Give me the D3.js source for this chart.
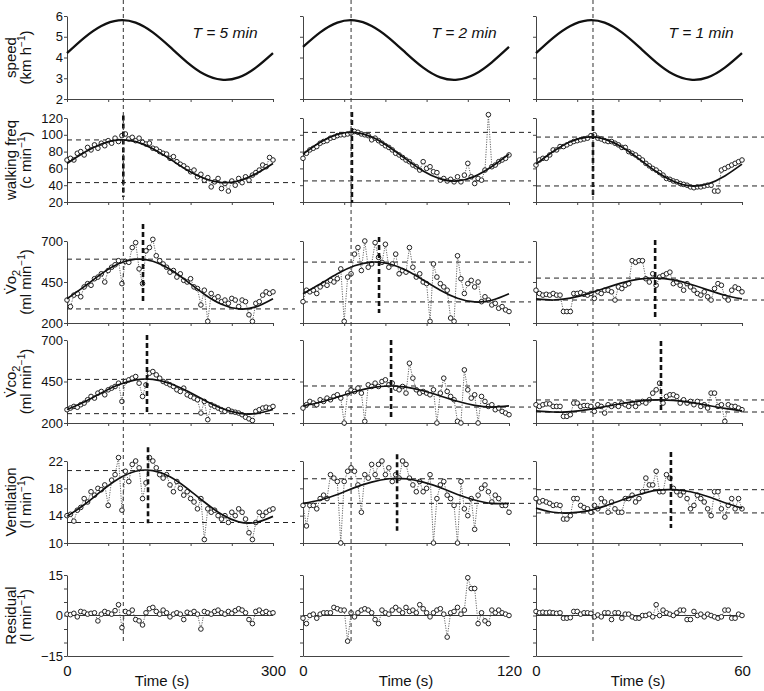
<!DOCTYPE html>
<html><head><meta charset="utf-8">
<script src="https://cdn.jsdelivr.net/npm/d3@7"></script>
<style>
body{margin:0;background:#fff}
svg{display:block}
text{font-family:"Liberation Sans",Arial,Helvetica,sans-serif;fill:#111}
</style>
</head><body>
<svg id="chart" width="764" height="691"></svg>
<script>
// ---------------- DATA ----------------
const periodLabels = ["T = 5 min", "T = 2 min", "T = 1 min"];
const periods = [300, 120, 60];
const xEndLabels = [["0", "300"], ["0", "120"], ["0", "60"]];
const xTitle = "Time (s)";

// tick values per row
const speedTicks = [2, 3, 4, 5, 6];
const walkTicks = [20, 40, 60, 80, 100, 120];
const vo2Ticks = [200, 450, 700];
const vco2Ticks = [200, 450, 700];
const ventTicks = [10, 14, 18, 22];
const residTicks = [-15, -10, -5, 0, 5, 10, 15];
const residLabelled = [-15, 0, 15];

// speed profile (13 samples over one period)
const speed5 = [4.21,4.95,5.52,5.79,5.68,5.21,4.51,3.77,3.19,2.93,3.04,3.51,4.21];
const speed2 = [4.51,5.21,5.68,5.79,5.52,4.95,4.21,3.51,3.04,2.93,3.19,3.77,4.51];
const speed1 = [4.21,4.95,5.52,5.79,5.68,5.21,4.51,3.77,3.19,2.93,3.04,3.51,4.21];

// fitted sine responses (13 samples over one period)
const walkFit5 = [65.8,78.9,89.1,93.9,91.8,83.5,71.2,58.1,47.9,43.1,45.2,53.5,65.8];
const walkFit2 = [77.0,91.1,100.5,102.9,97.5,85.8,71.0,56.9,47.5,45.1,50.5,62.2,77.0];
const walkFit1 = [65.1,80.1,91.8,97.3,94.9,85.4,71.3,56.3,44.6,39.1,41.5,51.0,65.1];
const vo2Fit5 = [347.8,421.5,499.6,560.9,589.2,576.9,527.2,453.5,375.4,314.1,285.8,298.1,347.8];
const vo2Fit2 = [378.3,437.2,499.7,548.7,571.4,561.5,521.7,462.8,400.3,351.3,328.6,338.5,378.3];
const vo2Fit1 = [346.8,340.1,351.5,377.7,411.7,444.5,467.2,473.9,462.5,436.3,402.3,369.5,346.8];
const vco2Fit5 = [281.1,326.9,381.4,430.1,459.8,462.7,437.9,392.1,337.6,288.9,259.2,256.3,281.1];
const vco2Fit2 = [302.9,324.9,356.2,388.3,412.8,422.9,416.1,394.1,362.8,330.7,306.2,296.1,302.9];
const vco2Fit1 = [273.0,266.2,269.1,281.0,298.7,317.4,332.0,338.8,335.9,324.0,306.3,287.6,273.0];
const ventFit5 = [13.9,15.6,17.6,19.4,20.5,20.6,19.7,18.0,16.0,14.2,13.1,13.0,13.9];
const ventFit2 = [15.8,16.3,17.1,18.1,18.9,19.4,19.4,18.9,18.1,17.1,16.3,15.8,15.8];
const ventFit1 = [15.1,14.5,14.4,14.7,15.4,16.3,17.1,17.7,17.8,17.5,16.8,15.9,15.1];

// measured data (61 samples evenly spread over one period)
const walk5 = [70,72,70,78,80,76,85,82,88,84,90,87,93,90,96,92,99,101,95,97,93,96,91,89,90,84,83,80,78,77,72,74,68,65,63,60,56,58,50,53,46,49,38,44,48,36,42,33,45,40,48,43,50,46,52,55,58,64,62,73,70];
const walk2 = [72,78,82,84,86,90,92,93,96,97,99,100,100,101,102,104,103,101,100,99,94,96,93,90,87,85,82,78,76,73,70,68,64,62,58,68,60,62,56,55,46,48,45,47,44,50,44,52,66,50,42,48,46,58,124,62,64,68,70,72,76];
const walk1 = [64,70,72,72,76,82,82,86,86,88,90,92,93,94,95,96,99,100,96,95,93,92,92,90,88,85,85,80,78,76,73,70,66,63,60,58,55,52,48,47,45,44,42,41,40,38,37,38,38,39,40,40,33,33,58,60,62,64,66,68,70];

const vo2_5 = [340,300,370,380,360,420,440,430,470,480,500,450,520,540,555,580,440,575,570,660,690,530,440,640,660,710,610,580,560,540,510,520,480,500,460,450,470,420,410,310,400,210,380,350,360,330,340,320,350,340,300,340,330,250,210,320,330,370,390,380,390];
const vo2_2 = [330,400,390,400,380,420,440,430,460,450,470,530,210,480,500,620,660,520,700,540,560,690,600,570,680,540,560,620,500,520,510,660,540,480,500,450,440,210,560,480,440,420,400,230,210,610,470,380,440,460,420,450,330,360,340,310,320,290,300,280,270];
const vo2_1 = [400,380,370,375,370,380,370,370,270,270,270,380,380,385,375,370,380,350,390,380,400,400,390,340,420,410,430,440,580,570,580,580,470,450,500,430,480,490,500,510,440,450,430,400,440,420,400,380,370,390,360,340,410,440,430,360,340,400,420,410,390];

const vco2_5 = [280,290,300,295,310,320,340,360,350,380,390,370,400,410,420,440,330,450,460,470,480,440,360,430,500,510,490,470,450,440,430,420,400,390,410,370,360,350,340,260,330,220,310,300,290,280,270,280,270,265,260,250,235,225,215,270,280,290,295,290,300];
const vco2_2 = [290,310,330,320,310,340,330,350,340,360,370,350,200,380,400,390,410,380,210,430,420,440,420,450,460,430,440,410,400,420,380,560,470,400,380,390,380,370,400,200,380,470,390,360,340,210,200,520,400,350,370,200,360,330,300,310,280,290,270,260,250];
const vco2_1 = [310,300,310,315,315,300,300,300,240,240,250,320,320,300,305,305,300,270,310,300,260,310,300,310,300,320,310,300,320,300,320,330,320,340,380,400,440,320,360,370,370,360,320,340,320,330,310,330,300,310,290,380,380,300,310,210,310,300,300,290,280];

const vent5 = [14.0,14.2,13.2,14.8,15.2,16.5,16.0,17.5,17.0,18.0,17.8,18.5,15.5,19.2,20.0,22.5,14.8,20.5,19.0,21.5,22.0,21.0,16.5,18.8,22.5,22.0,21.0,20.0,19.5,20.0,18.5,17.5,19.0,18.0,17.0,17.5,16.5,16.0,15.0,16.5,10.5,15.0,14.5,14.8,14.0,13.5,14.0,13.0,14.5,14.0,15.0,14.5,13.5,11.5,10.5,13.0,14.5,14.0,14.5,14.8,15.0];
const vent2 = [15.5,12.5,15.5,15.5,15.0,16.5,17.0,16.5,20.0,19.5,19.0,10.0,19.0,20.5,21.0,20.5,18.5,14.5,20.0,19.5,21.5,20.0,21.5,22.0,20.0,21.0,19.0,20.0,19.5,22.0,21.5,19.5,18.5,17.5,19.0,17.5,18.0,20.0,10.0,16.5,18.5,19.0,17.0,16.5,15.5,10.0,19.0,15.0,14.0,16.5,12.0,17.0,18.0,18.5,17.5,16.0,17.0,16.5,15.5,15.5,14.5];
const vent1 = [16.5,16.0,16.2,16.0,15.8,15.5,15.6,15.5,13.5,13.5,14.0,16.5,16.5,15.5,15.2,15.0,14.5,15.5,15.0,16.5,16.0,14.5,16.0,15.0,14.5,14.5,16.5,16.5,17.0,16.0,16.5,17.5,19.5,18.5,18.5,20.5,17.5,17.5,20.0,19.5,18.0,17.5,17.0,17.5,16.5,15.0,15.5,17.0,16.5,16.0,15.0,14.0,17.5,17.5,15.0,13.8,15.5,16.5,15.0,16.5,15.0];

const resid5 = [0.5,0.3,0.8,-0.5,1.5,1.2,0.5,0.8,1.0,-2.0,0.5,1.5,1.0,0.5,1.8,4.0,-4.5,1.5,1.0,2.0,-1.5,-2.0,-3.5,1.0,2.5,3.0,1.5,0.5,2.0,1.0,-0.5,0.5,1.0,0.5,-1.5,1.2,0.8,1.5,0.5,-5.0,1.5,1.0,0.5,1.5,2.0,1.0,0.5,1.5,0.8,1.8,2.5,2.0,1.0,-1.5,-3.0,1.5,2.0,1.0,1.5,0.8,1.0];
const resid2 = [-1,-3,0,0.5,-1,0.5,1,1,1,3,2.5,2,2,-9.5,1,-0.5,1,2,2.5,2,1,-1.5,-3,2,1,0.5,2,3,2,1,3,1.5,2,1,4,2.5,1,-0.5,1,2,2.5,0.5,-8,1,1.5,3,0.5,2,14,10,10,-3,1,-2,-3,2,1,2,1,0.5,0];
const resid1 = [1.5,1.0,1.2,1.0,1.2,1.0,0.8,1.0,-1.0,-1.0,-0.8,1.5,1.5,0.5,1.0,1.0,0.8,-0.5,0.2,-0.5,1.0,1.0,-1.5,1.0,1.0,-1.0,0.5,0.5,-0.5,-1.0,-1.0,0.0,0.0,0.5,-0.5,4.0,0.0,2.0,1.0,0.5,0.0,1.0,2.0,2.0,-1.5,-1.5,1.5,0.0,0.5,-0.5,0.5,0.0,-0.5,-1.0,-0.5,2.0,2.0,-1.0,-1.0,0.5,0.0];

// time of speed peak (guide line) and of each fitted response peak (s)
const guideTimes = [82, 28, 16.6];
const peakTimes5 = [82, 110.7, 116.5, 118];
const peakTimes2 = [28.5, 44.3, 51.3, 54.8];
const peakTimes1 = [16.6, 34.7, 36.4, 39.3];

// ---------------- LAYOUT ----------------
const W = 764, H = 691;
const colX = [[67, 273], [303, 509], [536, 742]];
const rowY = [[16, 99], [118, 202], [241, 323], [340, 423], [461, 543], [575, 656]];
const rowDomains = [[2, 6], [20, 120], [200, 700], [200, 700], [10, 22], [-15, 15]];
const rowTicks = [speedTicks, walkTicks, vo2Ticks, vco2Ticks, ventTicks, residTicks];
// vertical extent (data units) of the thick peak markers, rows 1..4
const markerSpan = [
  [[123, 26], [804, 328], [730, 260], [24.0, 12.9]],
  [[127, 19], [724, 261], [700, 236], [23.0, 11.8]],
  [[129.5, 26], [706, 237], [694, 260], [23.3, 12.2]]
];

const cols = [
  {speed: speed5, fits: [walkFit5, vo2Fit5, vco2Fit5, ventFit5], data: [walk5, vo2_5, vco2_5, vent5, resid5], peaks: peakTimes5},
  {speed: speed2, fits: [walkFit2, vo2Fit2, vco2Fit2, ventFit2], data: [walk2, vo2_2, vco2_2, vent2, resid2], peaks: peakTimes2},
  {speed: speed1, fits: [walkFit1, vo2Fit1, vco2Fit1, ventFit1], data: [walk1, vo2_1, vco2_1, vent1, resid1], peaks: peakTimes1}
];

const svg = d3.select("#chart");
const ink = "#222";

cols.forEach((col, c) => {
  const T = periods[c];
  const x = d3.scaleLinear().domain([0, T]).range(colX[c]);
  const xEnd = colX[c][1] + 22;

  rowY.forEach((ry, r) => {
    const y = d3.scaleLinear().domain(rowDomains[r]).range([ry[1], ry[0]]);
    const g = svg.append("g");

    // y axis
    const ya = d3.axisLeft(y).tickValues(rowTicks[r]).tickSize(3).tickSizeOuter(0).tickPadding(1)
      .tickFormat(d => {
        if (c !== 0) return "";
        if (r === 5) return residLabelled.includes(d) ? (d < 0 ? "\u2212" + Math.abs(d) : String(d)) : "";
        return String(d);
      });
    const yg = g.append("g").attr("transform", `translate(${colX[c][0]},0)`).call(ya);
    yg.selectAll("text").style("font-size", "13px").attr("fill", "#111");
    yg.selectAll("line,path").attr("stroke", "#444");

    // x axis
    const xa = r < 5
      ? d3.axisBottom(x).tickValues(d3.range(0, T + 0.001, T / 5)).tickSize(3).tickSizeOuter(0).tickFormat("")
      : d3.axisBottom(x).tickValues([0, T]).tickSize(0).tickSizeOuter(0).tickPadding(9)
          .tickFormat((d, i) => xEndLabels[c][i]);
    const xg = g.append("g").attr("transform", `translate(0,${ry[1]})`).call(xa);
    xg.selectAll("text").style("font-size", "15px").attr("fill", "#111");
    xg.selectAll("line,path").attr("stroke", "#444");

    const samp = v => v.map((d, i) => [i * T / (v.length - 1), d]);
    const fitLine = d3.line().x(d => x(d[0])).y(d => y(d[1])).curve(d3.curveNatural);

    if (r === 0) {
      g.append("path").attr("d", fitLine(samp(col.speed)))
        .attr("fill", "none").attr("stroke", "#111").attr("stroke-width", 2.3);
      g.append("text").attr("x", (colX[c][0] + colX[c][1]) / 2 + (c === 0 ? 55 : c === 1 ? 58 : 62)).attr("y", 38)
        .attr("text-anchor", "middle").style("font-size", "15.5px").style("font-style", "italic")
        .text(periodLabels[c]);
      return;
    }

    const pts = samp(col.data[r - 1]);

    if (r < 5) {
      const fit = col.fits[r - 1];
      const ext = d3.extent(fit);
      ext.forEach(v => {
        g.append("line").attr("x1", colX[c][0]).attr("x2", xEnd)
          .attr("y1", y(v)).attr("y2", y(v))
          .attr("stroke", ink).attr("stroke-width", 1).attr("stroke-dasharray", "5,4");
      });
    } else {
      g.append("line").attr("x1", colX[c][0]).attr("x2", colX[c][1])
        .attr("y1", y(0)).attr("y2", y(0)).attr("stroke", "#333").attr("stroke-width", 1);
    }

    // dotted connection of data
    const dl = d3.line().x(d => x(d[0])).y(d => y(d[1]));
    g.append("path").attr("d", dl(pts)).attr("fill", "none")
      .attr("stroke", "#555").attr("stroke-width", 0.9).attr("stroke-dasharray", "1.2,1.3");
    g.selectAll("circle.pt").data(pts).join("circle").attr("class", "pt")
      .attr("cx", d => x(d[0])).attr("cy", d => y(d[1])).attr("r", 2.3)
      .attr("fill", "#fff").attr("stroke", "#222").attr("stroke-width", 1);

    if (r < 5) {
      const fit = col.fits[r - 1];
      g.append("path").attr("d", fitLine(samp(fit))).attr("fill", "none")
        .attr("stroke", "#111").attr("stroke-width", 1.7);
      const pt = col.peaks[r - 1];
      const span = markerSpan[c][r - 1];
      g.append("line").attr("x1", x(pt)).attr("x2", x(pt))
        .attr("y1", y(span[0])).attr("y2", y(span[1]))
        .attr("stroke", "#111").attr("stroke-width", 2.6).attr("stroke-dasharray", "5,3");
    }
  });

  // full-height guide line at speed peak
  svg.append("line").attr("x1", x(guideTimes[c])).attr("x2", x(guideTimes[c]))
    .attr("y1", 0).attr("y2", 642)
    .attr("stroke", "#333").attr("stroke-width", 1).attr("stroke-dasharray", "4,3");

  // x title
  svg.append("text").attr("x", (colX[c][0] + colX[c][1]) / 2 + (c === 0 ? -8 : c === 1 ? 0 : -1)).attr("y", 686)
    .attr("text-anchor", "middle").style("font-size", "15px").text(xTitle);
});

// row titles (rotated, two lines)
const rowTitles = [
  {l1: [["speed"]], l2: "(km h"},
  {l1: [["walking freq"]], l2: "(c min"},
  {l1: [["V\u0307o"], ["2", "sub"]], l2: "(ml min"},
  {l1: [["V\u0307co"], ["2", "sub"]], l2: "(ml min"},
  {l1: [["Ventilation"]], l2: "(l min"},
  {l1: [["Residual"]], l2: "(l min"}
];
rowTitles.forEach((rt, r) => {
  const cy = (rowY[r][0] + rowY[r][1]) / 2;
  const t1 = svg.append("text").attr("transform", `translate(16,${cy}) rotate(-90)`)
    .attr("text-anchor", "middle").style("font-size", "15px");
  rt.l1.forEach(p => {
    const ts = t1.append("tspan").text(p[0]);
    if (p[1] === "sub") ts.attr("dy", 4).style("font-size", "11px");
  });
  const t2 = svg.append("text").attr("transform", `translate(31,${cy}) rotate(-90)`)
    .attr("text-anchor", "middle").style("font-size", "15px");
  t2.append("tspan").text(rt.l2);
  t2.append("tspan").attr("dy", -6).style("font-size", "10px").text("\u22121");
  t2.append("tspan").attr("dy", 6).text(")");
});
</script>
</body></html>
